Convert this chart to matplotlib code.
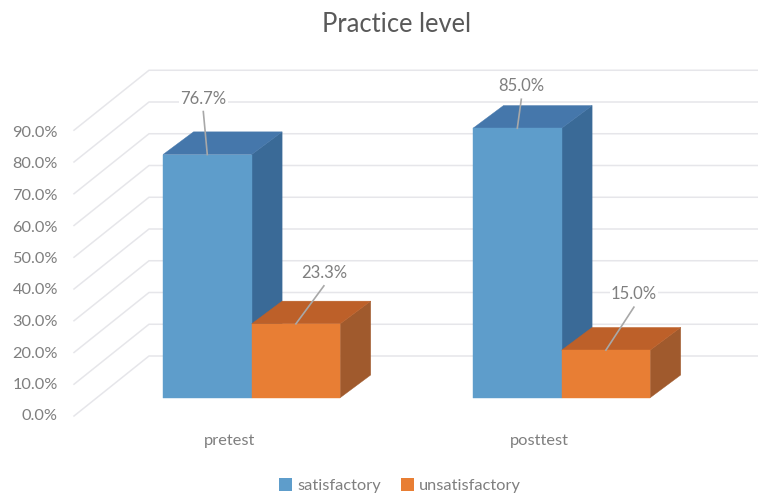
import matplotlib
matplotlib.use('Agg')
import matplotlib.pyplot as plt
from matplotlib.patches import Polygon, Patch

categories = ['pretest', 'posttest']
satisfactory = [76.7, 85.0]
unsatisfactory = [23.3, 15.0]
y_ticks = [0, 10, 20, 30, 40, 50, 60, 70, 80, 90]

# chart layout in pixels, the 3D box is a simple oblique projection
BASE_Y = 397.7
SCALE = 3.17
GROUP_X = [163.0, 473.0]
BAR_W = 88.6
DEPTH_X = 30.5
DEPTH_Y = 22.7
WALL_X = 149
WALL_BASE = 356
WALL_SCALE = 3.175
FRONT_X = 74
FRONT_DY = 60
LABEL_BASE = 416.5
LABEL_SCALE = 3.15

GRID = '#e6e6ea'
TEXT = '#7f7f7f'
LEADER = '#a8a8a8'
BLUE = ('#5e9dcb', '#4577ab', '#3a6a97')
ORANGE = ('#e87e34', '#bd6029', '#a05a2d')


def val_y(v):
    return BASE_Y - v * SCALE


def draw_bar(ax, x, v, colors):
    front, top, side = colors
    y = val_y(v)
    ax.add_patch(Polygon([(x + BAR_W, y), (x + BAR_W + DEPTH_X, y - DEPTH_Y),
                          (x + BAR_W + DEPTH_X, BASE_Y - DEPTH_Y), (x + BAR_W, BASE_Y)],
                         fc=side, ec=side, lw=0.3))
    ax.add_patch(Polygon([(x, y), (x + DEPTH_X, y - DEPTH_Y),
                          (x + BAR_W + DEPTH_X, y - DEPTH_Y), (x + BAR_W, y)],
                         fc=top, ec=top, lw=0.3))
    ax.add_patch(Polygon([(x, y), (x + BAR_W, y), (x + BAR_W, BASE_Y), (x, BASE_Y)],
                         fc=front, ec=front, lw=0.3))


def draw_label(ax, x, v, dx, dy):
    # value label with a leader line down to the middle of the bar top
    cx = x + BAR_W / 2
    y = val_y(v)
    ax.plot([cx, cx + dx], [y, y + dy + 13], color=LEADER, lw=1.2, zorder=5)
    ax.text(cx + dx, y + dy, '{:.1f}%'.format(v), ha='center', va='center',
            fontsize=12, color=TEXT, zorder=6,
            bbox=dict(fc='white', ec='none', pad=1))


def main():
    plt.rcParams['font.family'] = ['Lato', 'DejaVu Sans']
    fig = plt.figure(figsize=(7.58, 4.93), dpi=100)
    ax = fig.add_axes([0, 0, 1, 1])
    ax.set_xlim(0, 758)
    ax.set_ylim(493, 0)
    ax.axis('off')

    # back wall gridlines and their diagonal floor lines
    for t in y_ticks:
        wall_y = WALL_BASE - t * WALL_SCALE
        ax.plot([FRONT_X, WALL_X, 758], [wall_y + FRONT_DY, wall_y, wall_y],
                color=GRID, lw=1.1, zorder=1)
        ax.text(58, LABEL_BASE - t * LABEL_SCALE, '{:.1f}%'.format(t), ha='right', va='center',
                fontsize=11.8, color=TEXT)

    for i, x in enumerate(GROUP_X):
        draw_bar(ax, x, satisfactory[i], BLUE)
        draw_bar(ax, x + BAR_W, unsatisfactory[i], ORANGE)
        ax.text(x + BAR_W - 22.5, 441, categories[i], ha='center', va='center',
                fontsize=11.8, color=TEXT)

    draw_label(ax, GROUP_X[0], satisfactory[0], -4, -56)
    draw_label(ax, GROUP_X[0] + BAR_W, unsatisfactory[0], 28, -51)
    draw_label(ax, GROUP_X[1], satisfactory[1], 4, -42)
    draw_label(ax, GROUP_X[1] + BAR_W, unsatisfactory[1], 28, -56)

    ax.text(396.5, 24.5, 'Practice level', ha='center', va='center',
            fontsize=18.4, color='#595959')

    handles = [Patch(fc=BLUE[0], label='satisfactory'),
               Patch(fc=ORANGE[0], label='unsatisfactory')]
    ax.legend(handles=handles, loc='center', bbox_to_anchor=(400 / 758, 1 - 485.5 / 493),
              ncol=2, frameon=False, fontsize=11.8, labelcolor=TEXT,
              handlelength=0.8, handleheight=0.8, handletextpad=0.3, columnspacing=1.2,
              borderpad=0)

    fig.savefig('out.png', dpi=100)


if __name__ == "__main__":
    main()
